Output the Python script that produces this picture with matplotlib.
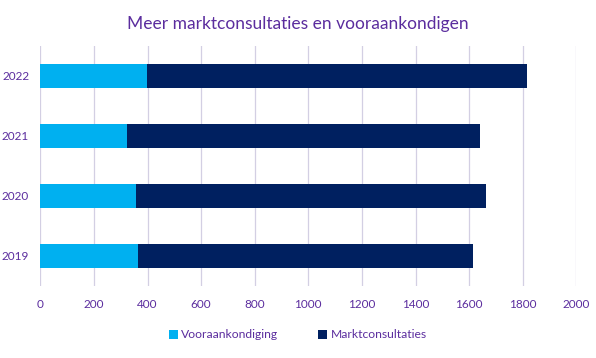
import matplotlib.pyplot as plt
import numpy as np

years = ["2019", "2020", "2021", "2022"]
vooraankondiging = [365, 357, 323, 397]
marktconsultaties = [1250, 1306, 1318, 1419]
xticks = [0, 200, 400, 600, 800, 1000, 1200, 1400, 1600, 1800, 2000]

txt = "#5B2D9E"
plt.rcParams['font.family'] = ['Lato', 'DejaVu Sans']

fig = plt.figure(figsize=(5.96, 3.58), dpi=100)
ax = fig.add_axes([40.3 / 596, 72 / 358, 536 / 596, 240 / 358])

y = np.arange(len(years))
ax.barh(y, vooraankondiging, height=0.4, color="#00B0F0", label="Vooraankondiging", zorder=3)
ax.barh(y, marktconsultaties, left=vooraankondiging, height=0.4, color="#002060",
        label="Marktconsultaties", zorder=3)

ax.set_xlim(0, 2000)
ax.set_ylim(-0.5, len(years) - 0.5)
ax.set_xticks(xticks)
ax.set_yticks(y)
ax.set_yticklabels(years)
ax.tick_params(length=0, labelsize=8.5, labelcolor=txt)
ax.tick_params(axis='x', pad=9)
ax.tick_params(axis='y', pad=8)
ax.grid(axis='x', color="#D3CFE3", linewidth=0.9, zorder=0)
for s in ax.spines.values():
    s.set_visible(False)

fig.text(0.5, 1 - 24 / 358, "Meer marktconsultaties en vooraankondigen", ha='center', va='center',
         color=txt, fontsize=12.5)

fig.legend(loc='center', bbox_to_anchor=(0.5, 1 - 335 / 358), ncol=2, frameon=False,
           fontsize=8.7, labelcolor=txt, handlelength=0.7, handleheight=0.7,
           handletextpad=0.3, columnspacing=3.3)

fig.savefig("out.png", dpi=100)
